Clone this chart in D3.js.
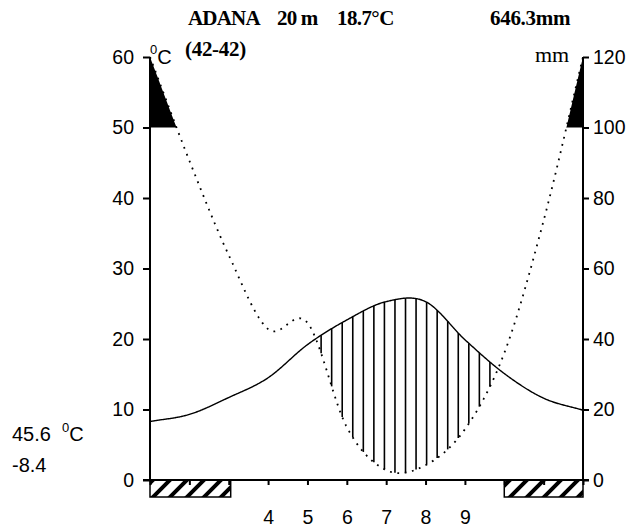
<!DOCTYPE html>
<html>
<head>
<meta charset="utf-8">
<script src="https://cdn.jsdelivr.net/npm/d3@7"></script>
<style>
  body { margin: 0; background: #fff; }
  svg { display: block; }
</style>
</head>
<body>
<svg id="chart" width="634" height="532"></svg>
<script>
// Walter-Lieth climate diagram for Adana
const months = [1, 2, 3, 4, 5, 6, 7, 8, 9, 10, 11, 12];
const monthLabels = ["", "", "", "4", "5", "6", "7", "8", "9", "", "", ""];
const temperature = [8.3, 9.3, 11.7, 14.5, 19.2, 22.7, 25.3, 25.3, 19.9, 15.1, 11.6, 9.9];   // °C
const precipitation = [120, 90.6, 63.8, 42.8, 44.6, 15, 2.8, 4.2, 14.4, 36, 73.6, 120];       // mm
const tempTicks = [0, 10, 20, 30, 40, 50, 60];
const precTicks = [0, 20, 40, 60, 80, 100, 120];
const frostSpans = [[1, 3.05], [10, 12]];   // months with absolute minimum below 0 °C
const station = "ADANA", altitude = "20 m", meanTemp = "18.7", annualPrec = "646.3mm";
const period = "(42-42)", absMax = "45.6", absMin = "-8.4";

const svg = d3.select("#chart");
const plotLeft = 150, plotRight = 583, plotTop = 57, plotBottom = 480;

const x = d3.scaleLinear().domain([1, 12]).range([plotLeft, plotRight]);
const yT = d3.scaleLinear().domain([0, 60]).range([plotBottom, plotTop]);
const yP = d3.scaleLinear().domain([0, 120]).range([plotBottom, plotTop]);

// cubic Hermite (Catmull-Rom) interpolation through the monthly values
function smooth(values) {
  const n = values.length;
  const m = values.map((v, i) =>
    i === 0 ? values[1] - values[0]
    : i === n - 1 ? values[n - 1] - values[n - 2]
    : (values[i + 1] - values[i - 1]) / 2);
  return mon => {
    let i = Math.min(Math.floor(mon - 1), n - 2);
    i = Math.max(i, 0);
    const t = mon - 1 - i, t2 = t * t, t3 = t2 * t;
    return (2 * t3 - 3 * t2 + 1) * values[i] + (t3 - 2 * t2 + t) * m[i]
         + (-2 * t3 + 3 * t2) * values[i + 1] + (t3 - t2) * m[i + 1];
  };
}
const fT = smooth(temperature);
const fP = smooth(precipitation);
const samples = d3.range(1, 12.0001, 0.02).map(mon => {
  const mm = Math.min(mon, 12);
  return { m: mm, t: fT(mm), p: fP(mm) };
});

// hatch pattern for frost bars
const defs = svg.append("defs");
const pat = defs.append("pattern").attr("id", "frost").attr("patternUnits", "userSpaceOnUse")
  .attr("width", 17).attr("height", 17).attr("x", 0).attr("y", plotBottom);
pat.append("path").attr("d", "M-4,4 L4,-4 M0,17 L17,0 M13,21 L21,13")
  .attr("stroke", "#000").attr("stroke-width", 4);

// humid excess above 100 mm, filled black
svg.append("path")
  .datum(samples)
  .attr("d", d3.area().x(d => x(d.m)).y0(yP(100)).y1(d => yP(Math.max(d.p, 100))))
  .attr("fill", "#000");

// arid period: vertical lines where precipitation curve lies below temperature curve
const isArid = d => d.t > d.p / 2;
const firstArid = samples.find(isArid);
const lastArid = [...samples].reverse().find(isArid);
const hatchX = d3.range(x(firstArid.m) + 5, x(lastArid.m), 10.55);
svg.append("g").selectAll("line").data(hatchX).join("line")
  .each(function (px) {
    const mon = x.invert(px), t = fT(mon), p = fP(mon);
    d3.select(this).attr("x1", px).attr("x2", px).attr("y1", yT(t)).attr("y2", yP(p))
      .attr("visibility", t > p / 2 ? "visible" : "hidden");
  })
  .attr("stroke", "#000").attr("stroke-width", 1.6);

// precipitation curve (dotted)
svg.append("path")
  .datum(samples)
  .attr("d", d3.line().x(d => x(d.m)).y(d => yP(Math.min(d.p, 120))))
  .attr("fill", "none").attr("stroke", "#000").attr("stroke-width", 1.8)
  .attr("stroke-dasharray", "1.8 5.6");

// temperature curve
svg.append("path")
  .datum(samples)
  .attr("d", d3.line().x(d => x(d.m)).y(d => yT(d.t)))
  .attr("fill", "none").attr("stroke", "#000").attr("stroke-width", 1.4);

// axes
const font = "'Liberation Sans', Arial, sans-serif";
const serif = "'Liberation Serif', 'Times New Roman', serif";

const leftAxis = svg.append("g").attr("transform", `translate(${plotLeft},0)`)
  .call(d3.axisLeft(yT).tickValues(tempTicks).tickSize(7).tickPadding(9));
const rightAxis = svg.append("g").attr("transform", `translate(${plotRight},0)`)
  .call(d3.axisRight(yP).tickValues(precTicks).tickSize(6).tickPadding(4));
const bottomAxis = svg.append("g").attr("transform", `translate(0,${plotBottom})`)
  .call(d3.axisBottom(x).tickValues(months).tickSize(5).tickPadding(25)
    .tickFormat((d, i) => monthLabels[i]));

[leftAxis, rightAxis, bottomAxis].forEach(g => {
  g.select(".domain").attr("stroke", "#000").attr("stroke-width", 2);
  g.selectAll(".tick line").attr("stroke", "#000").attr("stroke-width", 2);
  g.selectAll("text").attr("font-family", font).attr("font-size", 19.5).attr("fill", "#000");
});
leftAxis.select(".domain").attr("d", `M0,${plotTop}V${plotBottom}`);
rightAxis.select(".domain").attr("d", `M0,${plotTop}V${plotBottom}`);
bottomAxis.select(".domain").attr("d", `M${plotLeft - 7},0H${plotRight + 6}`);

// frost bars below the month axis
svg.append("g").selectAll("rect").data(frostSpans).join("rect")
  .attr("x", d => x(d[0])).attr("width", d => x(d[1]) - x(d[0]))
  .attr("y", plotBottom).attr("height", 17)
  .attr("fill", "url(#frost)").attr("stroke", "#000").attr("stroke-width", 1.5);

// header texts
const title = svg.append("g").attr("font-family", serif).attr("font-weight", "bold")
  .attr("font-size", 21).attr("fill", "#000");
title.append("text").attr("x", 188).attr("y", 25).attr("letter-spacing", -0.8).text(station);
title.append("text").attr("x", 277).attr("y", 25).attr("letter-spacing", -0.8).text(altitude);
title.append("text").attr("x", 337).attr("y", 25).attr("letter-spacing", -0.6).text(meanTemp + "°C");
title.append("text").attr("x", 490).attr("y", 25).attr("letter-spacing", -0.3).text(annualPrec);
title.append("text").attr("x", 185).attr("y", 56).attr("letter-spacing", -0.3).text(period);

// unit labels
const unitC = svg.append("text").attr("x", 150).attr("y", 64)
  .attr("font-family", font).attr("font-size", 20).attr("fill", "#000");
unitC.append("tspan").attr("font-size", 13).attr("dy", -10).text("0");
unitC.append("tspan").attr("dy", 10).text("C");

svg.append("text").attr("x", 535).attr("y", 62)
  .attr("font-family", serif).attr("font-size", 22).attr("fill", "#000").text("mm");

// absolute extremes
const ext = svg.append("g").attr("font-family", font).attr("font-size", 20).attr("fill", "#000");
const maxT = ext.append("text").attr("x", 12).attr("y", 441);
maxT.append("tspan").text(absMax);
maxT.append("tspan").attr("x", 62).attr("font-size", 13).attr("dy", -9).text("0");
maxT.append("tspan").attr("dy", 9).text("C");
ext.append("text").attr("x", 12).attr("y", 472).text(absMin);
</script>
</body>
</html>
